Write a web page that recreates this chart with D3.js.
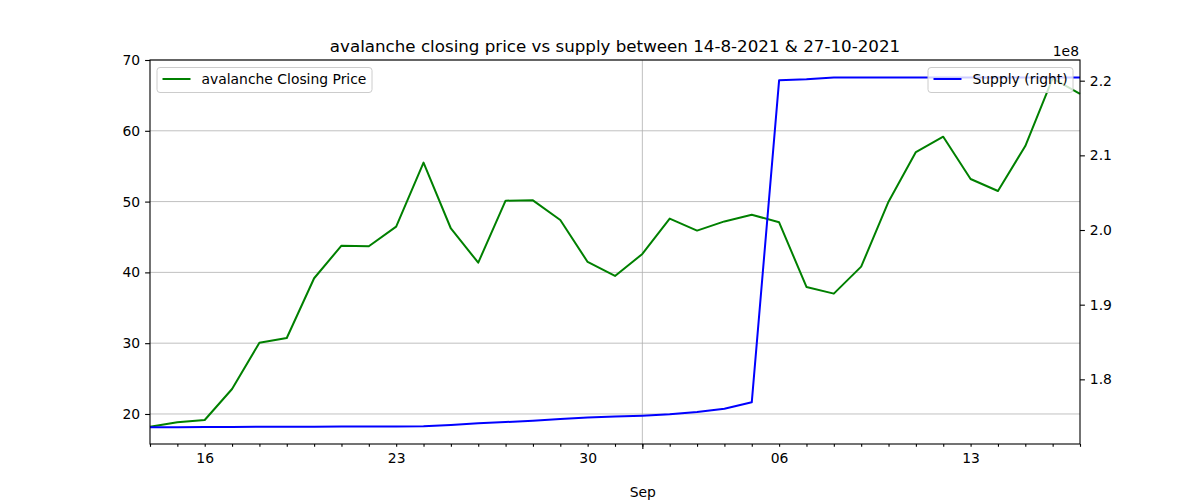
<!DOCTYPE html>
<html>
<head>
<meta charset="utf-8">
<script src="https://cdn.jsdelivr.net/npm/d3@7"></script>
<style>
  body { margin: 0; background: #fff; }
  text { font-family: "DejaVu Sans", sans-serif; }
</style>
</head>
<body>
<svg id="chart" width="1200" height="500"></svg>
<script>
// daily data, 14 Aug 2021 .. 17 Sep 2021
var dates = ["2021-08-14","2021-08-15","2021-08-16","2021-08-17","2021-08-18","2021-08-19","2021-08-20",
             "2021-08-21","2021-08-22","2021-08-23","2021-08-24","2021-08-25","2021-08-26","2021-08-27",
             "2021-08-28","2021-08-29","2021-08-30","2021-08-31","2021-09-01","2021-09-02","2021-09-03",
             "2021-09-04","2021-09-05","2021-09-06","2021-09-07","2021-09-08","2021-09-09","2021-09-10",
             "2021-09-11","2021-09-12","2021-09-13","2021-09-14","2021-09-15","2021-09-16","2021-09-17"];
var closePrice = [18.2, 18.83, 19.15, 23.53, 30.07, 30.73, 39.17, 43.78, 43.69, 46.46, 55.5, 46.2,
                  41.37, 50.13, 50.18, 47.4, 41.47, 39.5, 42.6, 47.6, 45.9, 47.2, 48.15, 47.07,
                  37.94, 37.0, 40.81, 49.99, 57.0, 59.17, 53.19, 51.5, 57.85, 67.4, 65.2];
var supply = [1.7358e8, 1.7360e8, 1.7361e8, 1.7362e8, 1.7364e8, 1.7365e8, 1.7366e8, 1.7367e8, 1.7369e8,
              1.7370e8, 1.7371e8, 1.7389e8, 1.7411e8, 1.7428e8, 1.7446e8, 1.7469e8, 1.7489e8, 1.7502e8,
              1.7513e8, 1.7531e8, 1.7562e8, 1.7606e8, 1.7692e8, 2.2007e8, 2.2020e8, 2.2043e8, 2.2043e8,
              2.2043e8, 2.2043e8, 2.2043e8, 2.2043e8, 2.2043e8, 2.2043e8, 2.2043e8, 2.2043e8];
var leftTicks = [20, 30, 40, 50, 60, 70];
var rightTicks = [1.8e8, 1.9e8, 2.0e8, 2.1e8, 2.2e8];
var titleText = "avalanche closing price vs supply between 14-8-2021 & 27-10-2021";

function makeChart() {
    var parse = d3.timeParse("%Y-%m-%d");
    var data = dates.map((d, i) => ({date: parse(d), price: closePrice[i], supply: supply[i]}));

    var svg = d3.select("#chart");
    var pL = 150, pR = 1080, pT = 60, pB = 444;

    var scX = d3.scaleTime().domain(d3.extent(data, d => d.date)).range([pL, pR]);
    var scY1 = d3.scaleLinear().domain([15.76, 70]).range([pB, pT]);
    var scY2 = d3.scaleLinear().domain([1.7134e8, 2.2277e8]).range([pB, pT]);

    // grid
    var grid = svg.append("g").attr("stroke", "#b0b0b0").attr("stroke-width", 0.8);
    grid.selectAll("line.h").data(leftTicks).enter().append("line")
        .attr("x1", pL).attr("x2", pR)
        .attr("y1", d => scY1(d)).attr("y2", d => scY1(d));
    var majorDates = [parse("2021-09-01")];
    grid.selectAll("line.v").data(majorDates).enter().append("line")
        .attr("y1", pT).attr("y2", pB)
        .attr("x1", d => scX(d)).attr("x2", d => scX(d));

    // price line
    var lineP = d3.line().x(d => scX(d.date)).y(d => scY1(d.price));
    svg.append("path").attr("fill", "none").attr("stroke", "#008000").attr("stroke-width", 2)
        .attr("stroke-linejoin", "round").attr("d", lineP(data));

    function legend(x, w, color, label) {
        var g = svg.append("g");
        g.append("rect").attr("x", x).attr("y", 67.5).attr("width", w).attr("height", 25)
            .attr("rx", 3).attr("fill", "#fff").attr("fill-opacity", 0.8)
            .attr("stroke", "#cccccc").attr("stroke-width", 1);
        g.append("line").attr("x1", x + 5.5).attr("x2", x + 33.5).attr("y1", 79).attr("y2", 79)
            .attr("stroke", color).attr("stroke-width", 2);
        g.append("text").attr("x", x + 44.5).attr("y", 84).attr("font-size", "13.9px")
            .attr("fill", "#000").text(label);
    }
    legend(157, 215, "#008000", "avalanche Closing Price");

    // supply line (secondary axes, drawn over the first)
    var lineS = d3.line().x(d => scX(d.date)).y(d => scY2(d.supply));
    svg.append("path").attr("fill", "none").attr("stroke", "#0000ff").attr("stroke-width", 2)
        .attr("stroke-linejoin", "round").attr("d", lineS(data));

    legend(928, 145, "#0000ff", "Supply (right)");

    // frame
    svg.append("rect").attr("x", pL).attr("y", pT).attr("width", pR - pL).attr("height", pB - pT)
        .attr("fill", "none").attr("stroke", "#000").attr("stroke-width", 1.1);

    // axes
    var yAxisL = svg.append("g").attr("transform", "translate(" + pL + ",0)")
        .call(d3.axisLeft(scY1).tickValues(leftTicks).tickSize(4.9).tickPadding(4.9).tickFormat(d3.format("d")));
    var yAxisR = svg.append("g").attr("transform", "translate(" + pR + ",0)")
        .call(d3.axisRight(scY2).tickValues(rightTicks).tickSize(4.9).tickPadding(4.9).tickFormat(d => (d / 1e8).toFixed(1)));

    var days = d3.timeDay.range(scX.domain()[0], d3.timeDay.offset(scX.domain()[1], 1));
    var xMinor = svg.append("g").attr("transform", "translate(0," + pB + ")")
        .call(d3.axisBottom(scX).tickValues(days).tickSize(2.8).tickPadding(6.5)
            .tickFormat(d => d.getDay() === 1 ? d3.timeFormat("%d")(d) : ""));
    var xMajor = svg.append("g").attr("transform", "translate(0," + pB + ")")
        .call(d3.axisBottom(scX).tickValues(majorDates).tickSize(4.9).tickPadding(38)
            .tickFormat(d3.timeFormat("%b")));

    [yAxisL, yAxisR, xMinor, xMajor].forEach(function(a) {
        a.select(".domain").remove();
        a.selectAll("line").attr("stroke", "#000").attr("stroke-width", 1.1);
        a.selectAll("text").attr("font-size", "13.9px").attr("fill", "#000")
            .attr("font-family", "DejaVu Sans, sans-serif");
    });

    // offset text and title
    svg.append("text").attr("x", 1079).attr("y", 56).attr("text-anchor", "end")
        .attr("font-size", "13.9px").text("1e8");
    svg.append("text").attr("x", (pL + pR) / 2).attr("y", 52).attr("text-anchor", "middle")
        .attr("font-size", "16.7px").text(titleText);
}
makeChart();
</script>
</body>
</html>
